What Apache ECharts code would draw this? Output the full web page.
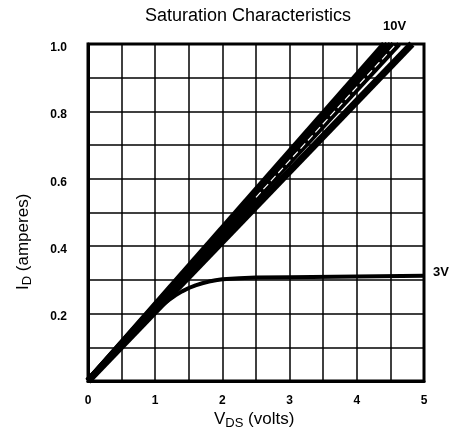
<!DOCTYPE html>
<html>
<head>
<meta charset="utf-8">
<script src="https://cdn.jsdelivr.net/npm/echarts@6/dist/echarts.min.js"></script>
<style>
html,body{margin:0;padding:0;background:#fff;}
#chart{width:452px;height:436px;}
</style>
</head>
<body>
<div id="chart"></div>
<script>
// Gate-voltage curves: V_DS (volts) vs I_D (amperes)
const bandNames = ['10V', '9V', '8V', '7V', '6V', '4V'];
const bandVds = [[0, 4.41], [0, 4.46], [0, 4.51], [0, 4.55], [0, 4.63], [0, 4.82]];
const bandId  = [[0, 1.0], [0, 1.0], [0, 1.0], [0, 1.0], [0, 1.0], [0, 1.0]];
const bandWidths = [6, 6, 6, 6, 5, 7];

// thin white streak inside the band (scan gap between curves)
const gapVds = [2.5, 4.585];
const gapId  = [0.545, 1.0];

const vds3V = [0, 0.5, 1.0, 1.1, 1.2, 1.3, 1.4, 1.5, 1.6, 1.7, 1.8, 1.9, 2.0, 2.25, 2.5, 3.0, 4.0, 5.0];
const id3V  = [0, 0.103, 0.205, 0.224, 0.240, 0.254, 0.266, 0.276, 0.284, 0.290, 0.295, 0.299, 0.302, 0.305, 0.307, 0.308, 0.310, 0.312];

const xTickLabels = ['0', '1', '2', '3', '4', '5'];
const yTickLabels = ['0.2', '0.4', '0.6', '0.8', '1.0'];

const font = 'Liberation Sans, Arial, Helvetica, sans-serif';

const series = [];
bandNames.forEach((n, i) => {
  series.push({
    name: n, type: 'line', showSymbol: false, symbol: 'none',
    data: bandVds[i].map((v, j) => [v, bandId[i][j]]),
    lineStyle: {color: '#000', width: bandWidths[i], cap: 'butt'},
    clip: true, z: 3
  });
});
series.push({
  name: 'gap', type: 'line', showSymbol: false, symbol: 'none',
  data: gapVds.map((v, j) => [v, gapId[j]]),
  lineStyle: {color: '#fff', width: 1.2, type: [7, 4]},
  clip: true, z: 4
});
series.push({
  name: '3V', type: 'line', showSymbol: false, symbol: 'none',
  data: vds3V.map((v, j) => [v, id3V[j]]),
  lineStyle: {color: '#000', width: 4, join: 'round'},
  clip: true, z: 3
});

const chart = echarts.init(document.getElementById('chart'), null, {renderer: 'canvas'});
chart.setOption({
  animation: false,
  backgroundColor: '#fff',
  grid: {left: 88, right: 28, top: 44, bottom: 55, show: true, borderColor: '#000', borderWidth: 3, backgroundColor: 'transparent'},
  xAxis: {
    type: 'value', min: 0, max: 5, interval: 0.5,
    axisLine: {show: true, lineStyle: {color: '#000', width: 3}},
    axisTick: {show: false},
    splitLine: {show: true, lineStyle: {color: '#000', width: 1.5}},
    axisLabel: {
      margin: 14, color: '#000', fontFamily: font, fontSize: 12, fontWeight: 'bold',
      formatter: v => { const k = Math.round(v * 2); return k % 2 === 0 ? xTickLabels[k / 2] : ''; }
    }
  },
  yAxis: {
    type: 'value', min: 0, max: 1.0, interval: 0.1,
    axisLine: {show: true, lineStyle: {color: '#000', width: 3}},
    axisTick: {show: false},
    splitLine: {show: true, lineStyle: {color: '#000', width: 1.5}},
    axisLabel: {
      margin: 21, color: '#000', fontFamily: font, fontSize: 12, fontWeight: 'bold',
      formatter: v => { const k = Math.round(v * 10); return (k > 0 && k % 2 === 0) ? '{a|' + yTickLabels[k / 2 - 1] + '}' : ''; },
      rich: {a: {color: '#000', fontFamily: font, fontSize: 12, fontWeight: 'bold', padding: [7, 0, 0, 0]}}
    }
  },
  series: series,
  graphic: [
    {type: 'text', left: 145, top: 7, style: {text: 'Saturation Characteristics', font: '18px ' + font, fill: '#000'}},
    {type: 'text', left: 383, top: 20, style: {text: '10V', font: 'bold 13px ' + font, fill: '#000'}},
    {type: 'text', left: 433, top: 266, style: {text: '3V', font: 'bold 13px ' + font, fill: '#000'}},
    {type: 'text', left: 214, top: 411, style: {
      text: '{m|V}{s|DS}{m| (volts)}',
      rich: {m: {font: '17px ' + font, color: '#000'}, s: {font: '13px ' + font, color: '#000', padding: [8, 0, 0, 0]}}
    }},
    {type: 'text', x: 13, y: 290, rotation: Math.PI / 2, style: {
      text: '{m|I}{s|D}{m| (amperes)}',
      rich: {m: {font: '17px ' + font, color: '#000'}, s: {font: '13px ' + font, color: '#000', padding: [8, 0, 0, 0]}}
    }}
  ]
});
</script>
</body>
</html>
